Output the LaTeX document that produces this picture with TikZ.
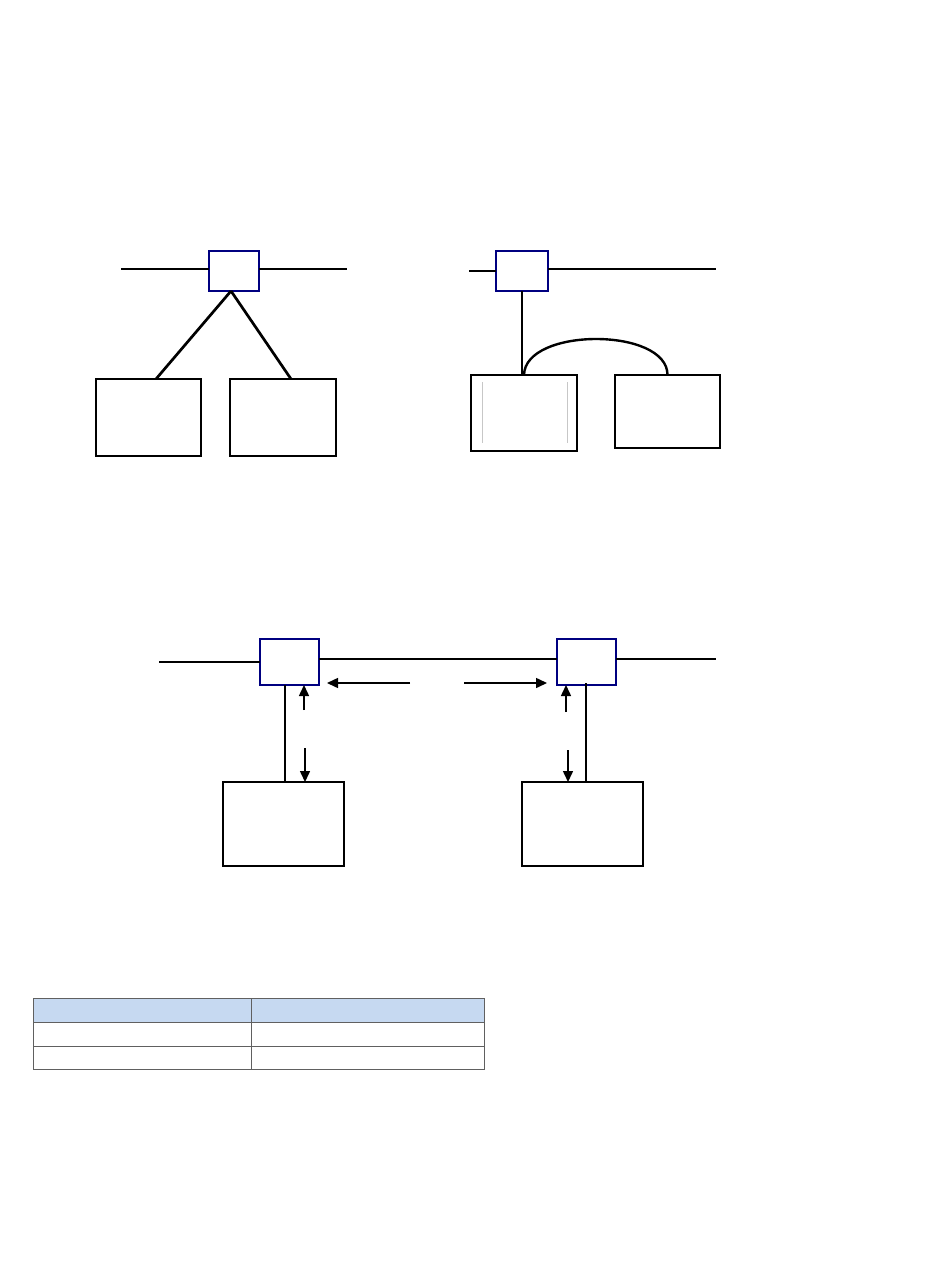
\documentclass[tikz,border=0pt]{standalone}
\usetikzlibrary{arrows.meta,calc}
\definecolor{navybox}{RGB}{0,0,128}
\definecolor{hdrblue}{RGB}{198,217,241}
\definecolor{tblgray}{RGB}{96,96,96}
\begin{document}
\begin{tikzpicture}[x=1pt,y=-1pt,
  swbox/.style={draw=navybox,line width=2.8pt,fill=white,inner sep=0pt,outer sep=0pt},
  hostbox/.style={draw=black,line width=2.9pt,fill=white,inner sep=0pt,outer sep=0pt},
  wire/.style={draw=black,line width=2.7pt},
  thinwire/.style={draw=black,line width=2.4pt},
  flow/.style={draw=black,line width=1.5pt,-{Triangle[length=11pt,width=10pt]}},
  cell/.style={draw=tblgray,line width=1pt,inner sep=0pt,outer sep=0pt,anchor=north west}]
\useasboundingbox (0,0) rectangle (950,1284);
\fill[white] (0,0) rectangle (950,1284);

% ---------- diagram 1 ----------
\node[swbox,minimum width=50pt,minimum height=40pt] (s1) at (234,271) {};
\node[hostbox,minimum width=105pt,minimum height=77pt] (b1) at (148.5,417.5) {};
\node[hostbox,minimum width=106pt,minimum height=77pt] (b2) at (283,417.5) {};
\coordinate (l1a) at (121,269);
\coordinate (l1b) at (347,269);
\draw[wire] (l1a) -- (l1a -| s1.west);
\draw[wire] (s1.east |- l1b) -- (l1b);
\draw[wire] ([xshift=-3pt]s1.south) -- ([xshift=7.5pt]b1.north);
\draw[wire] ([xshift=-3pt]s1.south) -- ([xshift=8pt]b2.north);

% ---------- diagram 2 ----------
\node[swbox,minimum width=52pt,minimum height=40pt] (s2) at (522,271) {};
\node[hostbox,minimum width=106pt,minimum height=76pt] (b3) at (524,413) {};
\node[hostbox,minimum width=105pt,minimum height=73pt] (b4) at (667.5,411.5) {};
\coordinate (l2a) at (469,271);
\coordinate (l2b) at (716,269);
\draw[wire] (l2a) -- (s2.west);
\draw[wire] (s2.east |- l2b) -- (l2b);
\draw[thinwire] (s2.south) -- (s2.south |- b3.north);
\draw[thinwire] (b3.north) .. controls ([xshift=1pt,yshift=48pt]b3.north) and ([yshift=48pt]b4.north) .. (b4.north);
\draw[black!22,line width=0.8pt] ([xshift=11pt,yshift=-7pt]b3.north west) -- ([xshift=11pt,yshift=8pt]b3.south west);
\draw[black!22,line width=0.8pt] ([xshift=-10pt,yshift=-7pt]b3.north east) -- ([xshift=-10pt,yshift=8pt]b3.south east);

% ---------- diagram 3 ----------
\node[swbox,minimum width=59pt,minimum height=46pt] (s3) at (289.5,662) {};
\node[swbox,minimum width=59pt,minimum height=46pt] (s4) at (586.5,662) {};
\node[hostbox,minimum width=121pt,minimum height=84pt] (b5) at (283.5,824) {};
\node[hostbox,minimum width=121pt,minimum height=84pt] (b6) at (582.5,824) {};
\coordinate (l3a) at (159,662);
\coordinate (l3b) at (716,659);
\draw[wire] (l3a) -- (s3.west);
\draw[wire] ([yshift=3pt]s3.east) -- ([yshift=3pt]s4.west);
\draw[wire] (s4.east |- l3b) -- (l3b);
\draw[thinwire] ([xshift=-4.5pt]s3.south) -- ([xshift=-4.5pt]s3.south |- b5.north);
\draw[thinwire] ([xshift=-0.5pt,yshift=2pt]s4.south) -- ([xshift=-0.5pt]s4.south |- b6.north);
% left arrows
\coordinate (a1) at (304,710);
\coordinate (a2) at (305,748);
\draw[flow] (a1) -- (a1 |- s3.south);
\draw[flow] (a2) -- (a2 |- b5.north);
\coordinate (a3) at (410,683);
\coordinate (a4) at (464,683);
\draw[flow] (a3) -- ([xshift=8pt]a3 -| s3.east);
\draw[flow] (a4) -- ([xshift=-10pt]a4 -| s4.west);
% right arrows
\coordinate (a5) at (566,712);
\coordinate (a6) at (568,750);
\draw[flow] (a5) -- (a5 |- s4.south);
\draw[flow] (a6) -- (a6 |- b6.north);

% ---------- table ----------
\node[cell,fill=hdrblue,minimum width=218pt,minimum height=24pt] (t11) at (33,998) {};
\node[cell,fill=hdrblue,minimum width=233pt,minimum height=24pt] (t12) at (251,998) {};
\node[cell,minimum width=218pt,minimum height=24pt] (t21) at (t11.south west) {};
\node[cell,minimum width=233pt,minimum height=24pt] (t22) at (t12.south west) {};
\node[cell,minimum width=218pt,minimum height=23pt] (t31) at (t21.south west) {};
\node[cell,minimum width=233pt,minimum height=23pt] (t32) at (t22.south west) {};
\end{tikzpicture}
\end{document}
